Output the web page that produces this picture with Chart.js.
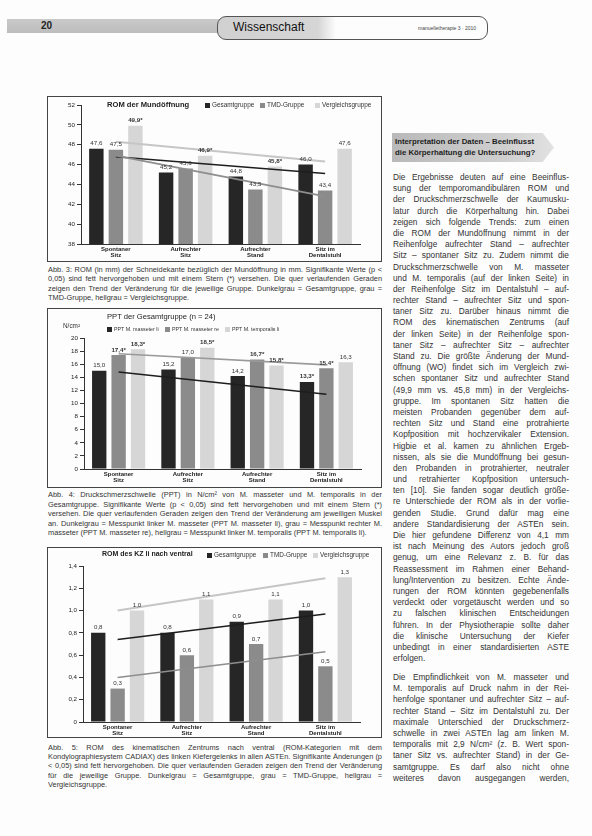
<!DOCTYPE html>
<html lang="de"><head><meta charset="utf-8">
<script src="https://cdn.jsdelivr.net/npm/chart.js@4.4.0/dist/chart.umd.min.js"></script>
<style>
body{margin:0;width:592px;height:836px;background:#fdfdfd;position:relative;overflow:hidden;font-family:"Liberation Sans",Arial,sans-serif;color:#222}
.abs{position:absolute}
.frame{position:absolute;left:47px;width:335px;border:1px solid #444;box-sizing:border-box}
.cv{position:absolute;left:48px;width:333px}
.cap{position:absolute;left:48px;width:334px;font-size:7.4px;line-height:9.3px;text-align:justify;color:#333}
.ttl{position:absolute;font-size:7.6px;white-space:nowrap;color:#222}
.lg{position:absolute;font-size:6.4px;white-space:nowrap;color:#333}
.lg i{display:inline-block;width:5px;height:5px;margin-right:2px;vertical-align:-0.5px}
.col{position:absolute;left:393px;width:176px;font-size:8.3px;line-height:11.2px;color:#333}
.col div{white-space:nowrap;text-align:justify;text-align-last:justify;height:11.2px}
.col div.last{text-align-last:left}
</style></head><body>

<!-- header -->
<div class="abs" style="left:7px;top:19px;width:212px;height:14px;background:linear-gradient(#c9c9c9,#bdbdbd)"></div>
<div class="abs" style="left:41px;top:20px;font-size:10px;font-weight:bold;line-height:12px">20</div>
<div class="abs" style="left:217px;top:16px;width:271px;height:24px;border:1px solid #555;border-radius:9px;box-sizing:border-box;background:linear-gradient(90deg,#d0d0d0 0px,#d6d6d6 100px,#fdfdfd 118px)"></div>
<div class="abs" style="left:233px;top:20px;font-size:12px;line-height:15px;color:#111">Wissenschaft</div>
<div class="abs" style="left:418px;top:25px;font-size:5px;color:#444">manuelletherapie 3 · 2010</div>

<!-- chart 1 -->
<div class="frame" style="top:96px;height:166px"></div>
<div class="cv" style="top:97px;height:164px"><canvas id="c1"></canvas></div>
<div class="ttl" style="left:107px;top:100px;font-weight:bold">ROM der Mundöffnung</div>
<div class="lg" style="left:205px;top:101px"><i style="background:#262626"></i>Gesamtgruppe</div>
<div class="lg" style="left:260px;top:101px"><i style="background:#8b8b8b"></i>TMD-Gruppe</div>
<div class="lg" style="left:315px;top:101px"><i style="background:#d6d6d6"></i>Vergleichsgruppe</div>
<div class="cap" style="top:265px">Abb. 3: ROM (in mm) der Schneidekante bezüglich der Mundöffnung in mm. Signifikante Werte (p &lt; 0,05) sind fett hervorgehoben und mit einem Stern (*) versehen. Die quer verlaufenden Geraden zeigen den Trend der Veränderung für die jeweilige Gruppe. Dunkelgrau = Gesamtgruppe, grau = TMD-Gruppe, hellgrau = Vergleichsgruppe.</div>

<!-- chart 2 -->
<div class="frame" style="top:308px;height:180px"></div>
<div class="cv" style="top:309px;height:178px"><canvas id="c2"></canvas></div>
<div class="ttl" style="left:107px;top:312px">PPT der Gesamtgruppe (n = 24)</div>
<div class="lg" style="left:63px;top:322px">N/cm²</div>
<div class="lg" style="left:107px;top:326px;font-size:5.3px"><i style="background:#262626"></i>PPT M. masseter li</div>
<div class="lg" style="left:165px;top:326px;font-size:5.3px"><i style="background:#8b8b8b"></i>PPT M. masseter re</div>
<div class="lg" style="left:225px;top:326px;font-size:5.3px"><i style="background:#d6d6d6"></i>PPT M. temporalis li</div>
<div class="cap" style="top:490px;line-height:9.5px">Abb. 4: Druckschmerzschwelle (PPT) in N/cm² von M. masseter und M. temporalis in der Gesamtgruppe. Signifikante Werte (p &lt; 0,05) sind fett hervorgehoben und mit einem Stern (*) versehen. Die quer verlaufenden Geraden zeigen den Trend der Veränderung am jeweiligen Muskel an. Dunkelgrau = Messpunkt linker M. masseter (PPT M. masseter li), grau = Messpunkt rechter M. masseter (PPT M. masseter re), hellgrau = Messpunkt linker M. temporalis (PPT M. temporalis li).</div>

<!-- chart 3 -->
<div class="frame" style="top:547px;height:191px"></div>
<div class="cv" style="top:548px;height:189px"><canvas id="c3"></canvas></div>
<div class="ttl" style="left:102px;top:550px;font-weight:bold;font-size:7px">ROM des KZ li nach ventral</div>
<div class="lg" style="left:207px;top:551px"><i style="background:#262626"></i>Gesamtgruppe</div>
<div class="lg" style="left:263px;top:551px"><i style="background:#8b8b8b"></i>TMD-Gruppe</div>
<div class="lg" style="left:313px;top:551px"><i style="background:#d6d6d6"></i>Vergleichsgruppe</div>
<div class="cap" style="top:743px;line-height:9.2px">Abb. 5: ROM des kinematischen Zentrums nach ventral (ROM-Kategorien mit dem Kondylographiesystem CADIAX) des linken Kiefergelenks in allen ASTEn. Signifikante Änderungen (p &lt; 0,05) sind fett hervorgehoben. Die quer verlaufenden Geraden zeigen den Trend der Veränderung für die jeweilige Gruppe. Dunkelgrau = Gesamtgruppe, grau = TMD-Gruppe, hellgrau = Vergleichsgruppe.</div>

<!-- right column -->
<div class="abs" style="left:392px;top:133px;width:162px;height:29px;background:linear-gradient(90deg,#b9b9b9,#cfcfcf 70%,#e2e2e2);clip-path:polygon(0 0,93% 0,100% 50%,93% 100%,0 100%)"></div>
<div class="abs" style="left:395px;top:136px;font-size:7.8px;line-height:11px;font-weight:bold;color:#222;white-space:nowrap">Interpretation der Daten – Beeinflusst<br>die Körperhaltung die Untersuchung?</div>

<div class="col" style="top:172px">
<div>Die Ergebnisse deuten auf eine Beeinflus-</div>
<div>sung der temporomandibulären ROM und</div>
<div>der Druckschmerzschwelle der Kaumusku-</div>
<div>latur durch die Körperhaltung hin. Dabei</div>
<div>zeigen sich folgende Trends: zum einen</div>
<div>die ROM der Mundöffnung nimmt in der</div>
<div>Reihenfolge aufrechter Stand – aufrechter</div>
<div>Sitz – spontaner Sitz zu. Zudem nimmt die</div>
<div>Druckschmerzschwelle von M. masseter</div>
<div>und M. temporalis (auf der linken Seite) in</div>
<div>der Reihenfolge Sitz im Dentalstuhl – auf-</div>
<div>rechter Stand – aufrechter Sitz und spon-</div>
<div>taner Sitz zu. Darüber hinaus nimmt die</div>
<div>ROM des kinematischen Zentrums (auf</div>
<div>der linken Seite) in der Reihenfolge spon-</div>
<div>taner Sitz – aufrechter Sitz – aufrechter</div>
<div>Stand zu. Die größte Änderung der Mund-</div>
<div>öffnung (WO) findet sich im Vergleich zwi-</div>
<div>schen spontaner Sitz und aufrechter Stand</div>
<div>(49,9 mm vs. 45,8 mm) in der Vergleichs-</div>
<div>gruppe. Im spontanen Sitz hatten die</div>
<div>meisten Probanden gegenüber dem auf-</div>
<div>rechten Sitz und Stand eine protrahierte</div>
<div>Kopfposition mit hochzervikaler Extension.</div>
<div>Higbie et al. kamen zu ähnlichen Ergeb-</div>
<div>nissen, als sie die Mundöffnung bei gesun-</div>
<div>den Probanden in protrahierter, neutraler</div>
<div>und retrahierter Kopfposition untersuch-</div>
<div>ten [10]. Sie fanden sogar deutlich größe-</div>
<div>re Unterschiede der ROM als in der vorlie-</div>
<div>genden Studie. Grund dafür mag eine</div>
<div>andere Standardisierung der ASTEn sein.</div>
<div>Die hier gefundene Differenz von 4,1 mm</div>
<div>ist nach Meinung des Autors jedoch groß</div>
<div>genug, um eine Relevanz z. B. für das</div>
<div>Reassessment im Rahmen einer Behand-</div>
<div>lung/Intervention zu besitzen. Echte Ände-</div>
<div>rungen der ROM könnten gegebenenfalls</div>
<div>verdeckt oder vorgetäuscht werden und so</div>
<div>zu falschen klinischen Entscheidungen</div>
<div>führen. In der Physiotherapie sollte daher</div>
<div>die klinische Untersuchung der Kiefer</div>
<div>unbedingt in einer standardisierten ASTE</div>
<div class="last">erfolgen.</div>
</div>
<div class="col" style="top:672px">
<div>Die Empfindlichkeit von M. masseter und</div>
<div>M. temporalis auf Druck nahm in der Rei-</div>
<div>henfolge spontaner und aufrechter Sitz – auf-</div>
<div>rechter Stand – Sitz im Dentalstuhl zu. Der</div>
<div>maximale Unterschied der Druckschmerz-</div>
<div>schwelle in zwei ASTEn lag am linken M.</div>
<div>temporalis mit 2,9 N/cm² (z. B. Wert spon-</div>
<div>taner Sitz vs. aufrechter Stand) in der Ge-</div>
<div>samtgruppe. Es darf also nicht ohne</div>
<div>weiteres davon ausgegangen werden,</div>
</div>

<script>
// ---------- shared ----------
const categories = [["Spontaner","Sitz"],["Aufrechter","Sitz"],["Aufrechter","Stand"],["Sitz im","Dentalstuhl"]];
const groupNames = ["Gesamtgruppe","TMD-Gruppe","Vergleichsgruppe"];

// ---------- chart 1: ROM der Mundöffnung (mm) ----------
const romTicks = [38,40,42,44,46,48,50,52];
const romGesamt = [47.6,45.2,44.8,46.0];
const romTMD = [47.5,45.6,43.5,43.4];
const romVergleich = [49.9,46.9,45.8,47.6];
const romGesamtSig = [false,false,false,false];
const romTMDSig = [false,false,false,false];
const romVergleichSig = [true,true,true,false];
const romTrendGesamt = [46.8,null,null,45.1];
const romTrendTMD = [46.9,null,null,42.8];
const romTrendVergleich = [48.3,null,null,46.3];

// ---------- chart 2: PPT der Gesamtgruppe (N/cm²) ----------
const pptNames = ["PPT M. masseter li","PPT M. masseter re","PPT M. temporalis li"];
const pptTicks = [0,2,4,6,8,10,12,14,16,18,20];
const pptMasseterLi = [15.0,15.2,14.2,13.3];
const pptMasseterRe = [17.4,17.0,16.7,15.4];
const pptTemporalisLi = [18.3,18.5,15.8,16.3];
const pptMasseterLiSig = [false,false,false,true];
const pptMasseterReSig = [true,false,true,true];
const pptTemporalisLiSig = [true,true,true,false];
const pptTrendMasseterLi = [14.8,null,null,11.4];
const pptTrendMasseterRe = [17.6,null,null,15.9];

// ---------- chart 3: ROM des KZ li nach ventral ----------
const kzTicks = [0,0.2,0.4,0.6,0.8,1.0,1.2,1.4];
const kzGesamt = [0.8,0.8,0.9,1.0];
const kzTMD = [0.3,0.6,0.7,0.5];
const kzVergleich = [1.0,1.1,1.1,1.3];
const kzTrendGesamt = [0.74,null,null,0.97];
const kzTrendTMD = [0.40,null,null,0.63];
const kzTrendVergleich = [1.00,null,null,1.29];

const DARK='#262626', GRAY='#8b8b8b', LIGHT='#d6d6d6';
const FONT='"Liberation Sans", Arial, sans-serif';

const valueLabels = {
  id:'valueLabels',
  afterDatasetsDraw(chart){
    const ctx=chart.ctx;
    chart.data.datasets.forEach((ds,i)=>{
      if(ds.type==='line') return;
      const meta=chart.getDatasetMeta(i);
      meta.data.forEach((bar,j)=>{
        const v=ds.data[j];
        let s=v.toFixed(1).replace('.',',');
        if(ds.sig && ds.sig[j]) s+='*';
        ctx.save();
        ctx.font=(ds.sig && ds.sig[j]?'bold ':'')+'6.2px '+FONT;
        ctx.fillStyle='#333';
        ctx.textAlign='center';ctx.textBaseline='bottom';
        ctx.fillText(s,bar.x,bar.y-2);
        ctx.restore();
      });
    });
  }
};

function bar(label,data,color,sig){
  return {type:'bar',label,data,backgroundColor:color,sig,order:1,
    categoryPercentage:0.84,barPercentage:0.74};
}
function trend(data,color,w){
  return {type:'line',data,borderColor:color,borderWidth:w,pointRadius:0,spanGaps:true,fill:false,order:0};
}
function make(id,datasets,ticks,yw,xh,pad,fmt){
  new Chart(document.getElementById(id),{
    type:'bar',
    data:{labels:categories,datasets},
    plugins:[valueLabels],
    options:{
      responsive:true,maintainAspectRatio:false,animation:false,
      layout:{padding:pad},
      plugins:{legend:{display:false},tooltip:{enabled:false},title:{display:false}},
      scales:{
        x:{grid:{display:false,drawTicks:false,tickLength:0},border:{display:true,color:'#333',width:1},
           ticks:{font:{family:FONT,size:6,weight:'bold',lineHeight:1.05},color:'#222',padding:2,maxRotation:0},
           afterFit(s){s.height=xh;}},
        y:{min:ticks[0],max:ticks[ticks.length-1],
           afterBuildTicks(s){s.ticks=ticks.map(v=>({value:v}));},
           grid:{display:true,drawOnChartArea:false,drawTicks:true,tickLength:4,color:'#333'},
           border:{display:true,color:'#333',width:1},
           ticks:{font:{family:FONT,size:6.2},color:'#222',padding:2,callback:fmt},
           afterFit(s){s.width=yw;}}
      }
    }
  });
}

make('c1',[
  trend(romTrendVergleich,'#c6c6c6',2),
  trend(romTrendTMD,'#8e8e8e',1.6),
  trend(romTrendGesamt,'#1e1e1e',1.5),
  bar(groupNames[0],romGesamt,DARK,romGesamtSig),
  bar(groupNames[1],romTMD,GRAY,romTMDSig),
  bar(groupNames[2],romVergleich,LIGHT,romVergleichSig)
],romTicks,33,17,{top:8,right:21,left:0,bottom:0},v=>String(v));

make('c2',[
  trend(pptTrendMasseterRe,'#9a9a9a',1.6),
  trend(pptTrendMasseterLi,'#1e1e1e',1.5),
  bar(pptNames[0],pptMasseterLi,DARK,pptMasseterLiSig),
  bar(pptNames[1],pptMasseterRe,GRAY,pptMasseterReSig),
  bar(pptNames[2],pptTemporalisLi,LIGHT,pptTemporalisLiSig)
],pptTicks,36,18,{top:29,right:20,left:0,bottom:0},v=>String(v));

make('c3',[
  trend(kzTrendVergleich,'#c6c6c6',2),
  trend(kzTrendTMD,'#8e8e8e',1.6),
  trend(kzTrendGesamt,'#1e1e1e',1.5),
  bar(groupNames[0],kzGesamt,DARK,null),
  bar(groupNames[1],kzTMD,GRAY,null),
  bar(groupNames[2],kzVergleich,LIGHT,null)
],kzTicks,35,15,{top:18,right:21,left:0,bottom:0},v=>v===0?'0':v.toFixed(1).replace('.',','));
</script>
</body></html>
